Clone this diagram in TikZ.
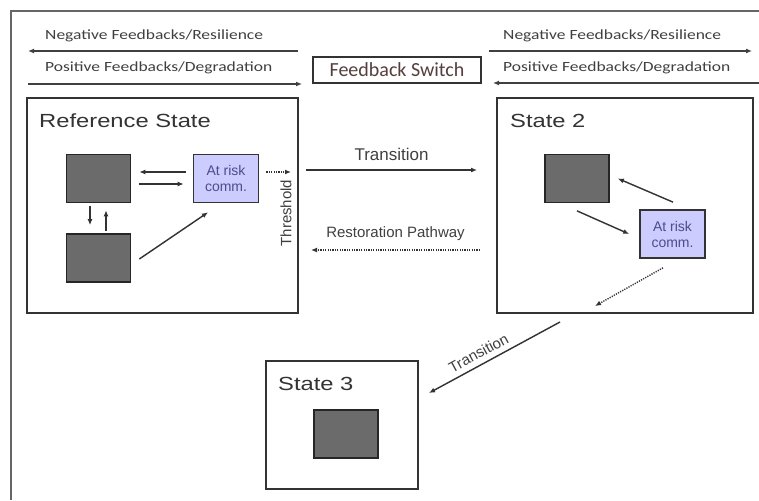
\documentclass[tikz,border=0pt]{standalone}
\usepackage{fontspec}
\setmainfont{Liberation Sans}
\newfontfamily\calfont{Carlito}[FakeStretch=1.25]
\newfontfamily\calplain{Carlito}
\newfontfamily\widefont{Liberation Sans}[FakeStretch=1.25]
\usetikzlibrary{calc,arrows.meta}
\definecolor{switchtext}{RGB}{85,62,62}

\tikzset{
	statebox/.style={draw=black!80, line width=0.7mm, fill=white},
	statelabel/.style={anchor=west, inner sep=0pt, text=black!80, font=\widefont\fontsize{19}{19}\selectfont},
	graybox/.style={draw=black!85, line width=0.6mm, fill=black!58, minimum width=64pt, minimum height=48pt},
	riskbox/.style={draw=black!80, line width=0.6mm, fill=blue!20, minimum width=65pt, minimum height=48pt, inner sep=1pt,
		align=center, text=blue!35!black!70, font=\fontsize{14}{16}\selectfont},
	fblabel/.style={anchor=west, inner sep=0pt, text=black!75, font=\calfont\fontsize{14}{14}\selectfont},
	fbarrow/.style={line width=0.5mm, color=black!75},
	arrow/.style={line width=0.5mm, color=black!80},
	dotarrow/.style={line width=0.5mm, color=black!80, dash pattern=on 1.2pt off 1.2pt},
	midlabel/.style={text=black!75, font=\fontsize{17}{17}\selectfont}
}

\begin{document}
\begin{tikzpicture}[x=1pt, y=-1pt, >={Latex[length=6pt,width=5pt]}]
		%%%%% START %%%%%
		\useasboundingbox (0,0) rectangle (759,500);
		\fill[white] (0,0) rectangle (759,500);
		
		\draw[line width=1mm, color=black!60] (11,500) -- (11,11) -- (759,11);
		
		% feedback rows
		\node[fblabel] (negl) at (45,36) {Negative Feedbacks/Resilience};
		\node[fblabel] (posl) at (45,68) {Positive Feedbacks/Degradation};
		\node[fblabel] (negr) at (503,36) {Negative Feedbacks/Resilience};
		\node[fblabel] (posr) at (503,68) {Positive Feedbacks/Degradation};
		
		\node[draw=black!80, line width=0.6mm, minimum width=168pt, minimum height=26pt, inner sep=0pt,
			text=switchtext, font=\calplain\fontsize{20}{20}\selectfont] (fbs) at (397,70) {Feedback Switch};
		
		\coordinate (negla) at (298,51);
		\coordinate (neglb) at (28,51);
		\coordinate (posla) at (28,84);
		\coordinate (poslb) at (302,84);
		\coordinate (negra) at (489,51);
		\coordinate (negrb) at (752,51);
		\coordinate (posra) at (760,83);
		\coordinate (posrb) at (493,83);
		
		\draw[fbarrow, ->] (negla) -- (neglb);
		\draw[fbarrow, ->] (posla) -- (poslb);
		\draw[fbarrow, ->] (negra) -- (negrb);
		\draw[fbarrow, ->] (posra) -- (posrb);
		
		% reference state
		\node[statebox, minimum width=271pt, minimum height=215pt] (ref) at (162.5,205.5) {};
		\node[statelabel] (reflab) at (39,121) {Reference State};
		\node[graybox] (ref1) at (98.5,178.5) {};
		\node[graybox] (ref2) at (98.5,258) {};
		\node[riskbox] (risk1) at (226,178.5) {At risk\\comm.};
		
		\draw[arrow, ->] ($(risk1.west)+(-7,-6.5)$) -- ($(ref1.east)+(8,-6.5)$);
		\draw[arrow, ->] ($(ref1.east)+(8,5.5)$) -- ($(risk1.west)+(-9,5.5)$);
		\draw[arrow, ->] ($(ref1.south)+(-8.5,3)$) -- ($(ref2.north)+(-8.5,-8)$);
		\draw[arrow, ->] ($(ref2.north)+(7.5,-2)$) -- ($(ref1.south)+(7.5,7)$);
		\draw[arrow, ->] ($(ref2.east)+(8,1)$) -- ($(risk1.south)+(-18,9)$);
		\draw[dotarrow, ->] ($(risk1.east)+(7,-6.5)$) -- ($(ref.east)+(-8,-33.5)$);
		
		\node[midlabel, rotate=90, font=\fontsize{15}{15}\selectfont] (thr) at (286,213) {Threshold};
		
		% state 2
		\node[statebox, minimum width=256pt, minimum height=215pt] (st2) at (625,205.5) {};
		\node[statelabel] (st2lab) at (510,121) {State 2};
		\node[graybox] (s2gray) at (577,178.5) {};
		\node[riskbox] (risk2) at (672.5,234) {At risk\\comm.};
		
		\draw[arrow, ->] ($(risk2.north)+(0.5,-7)$) -- ($(s2gray.east)+(8,0)$);
		\draw[arrow, ->] ($(s2gray.south)+(0,7.5)$) -- ($(risk2.west)+(-10,0)$);
		\draw[dotarrow, ->] ($(risk2.south)+(-9.5,9)$) -- ($(st2.south)+(-30,-8)$);
		
		% between states
		\draw[arrow, ->] ($(ref.east)+(7,-35.5)$) -- node[midlabel, above=5pt] (tr1) {Transition} ($(st2.west)+(-19,-35.5)$);
		\draw[dotarrow, ->] ($(st2.west)+(-16,44.5)$) -- node[midlabel, above=5pt, font=\fontsize{15}{15}\selectfont] (rest) {Restoration Pathway} ($(ref.east)+(12,44.5)$);
		
		% state 3
		\node[statebox, minimum width=152pt, minimum height=128pt] (st3) at (342,425) {};
		\node[statelabel] (st3lab) at (278,384) {State 3};
		\node[graybox] (s3gray) at (346,434) {};
		
		\draw[arrow, <-] ($(st3.east)+(10,-32)$) -- node[midlabel, sloped, above=2pt, pos=.42, font=\fontsize{15}{15}\selectfont] (tr2) {Transition} ($(st2.south)+(-65,8)$);
		%%%%% END %%%%%
\end{tikzpicture}
\end{document}
